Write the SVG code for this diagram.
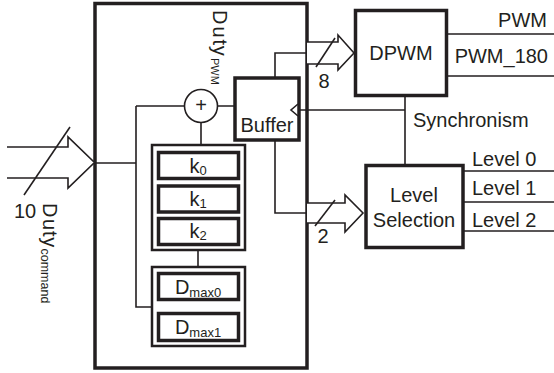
<svg xmlns="http://www.w3.org/2000/svg" width="554" height="373" viewBox="0 0 554 373">
<style>
.t{font-family:"Liberation Sans",Arial,sans-serif;font-size:20px;fill:#231f20}
.s{font-size:13px}
.ln{fill:none;stroke:#231f20;stroke-width:1.6}
.bx{fill:none;stroke:#231f20;stroke-width:3.5}
.bx2{fill:none;stroke:#231f20;stroke-width:2.5}
.bus{fill:#fff;stroke:#231f20;stroke-width:1.6;stroke-linejoin:miter}
</style>
<rect width="554" height="373" fill="#fff"/>
<g id="main">
<rect class="bx" x="95" y="3.5" width="212" height="364.5"/>
<text class="t" x="213 213 213 213 211 211 211" y="10 26.6 39.4 45.8 58 65.3 75.7" rotate="90" font-size="23">Duty<tspan font-size="11">PWM</tspan></text>
</g>
<g id="sum">
<circle class="ln" cx="201" cy="106" r="16.5" fill="#fff"/>
<text class="t" x="201" y="112" text-anchor="middle" font-size="17">+</text>
</g>
<g id="kgroup">
<rect class="bx2" x="152" y="145" width="93" height="105"/>
<g id="k0"><rect class="bx" x="158.5" y="152.5" width="80" height="26"/><text class="t" x="198" y="173" text-anchor="middle">k<tspan class="s" dy="2">0</tspan></text></g>
<g id="k1"><rect class="bx" x="158.5" y="186" width="80" height="26"/><text class="t" x="198" y="206" text-anchor="middle">k<tspan class="s" dy="2">1</tspan></text></g>
<g id="k2"><rect class="bx" x="158.5" y="218.5" width="80" height="26"/><text class="t" x="198" y="238" text-anchor="middle">k<tspan class="s" dy="2">2</tspan></text></g>
</g>
<g id="dgroup">
<rect class="bx2" x="152" y="267" width="93" height="79"/>
<g id="dmax0"><rect class="bx" x="158.5" y="273.5" width="80" height="26"/><text class="t" x="198" y="294" text-anchor="middle">D<tspan class="s" dy="3">max0</tspan></text></g>
<g id="dmax1"><rect class="bx" x="158.5" y="313.5" width="80" height="27"/><text class="t" x="198" y="334" text-anchor="middle">D<tspan class="s" dy="3">max1</tspan></text></g>
</g>
<g id="buffer">
<rect class="bx" x="235" y="78" width="64" height="62"/>
<text class="t" x="267" y="132" text-anchor="middle">Buffer</text>
<path class="ln" d="M298,104 L291,110 L298,116"/>
</g>
<g id="dpwm">
<rect class="bx" x="355.5" y="10.5" width="91" height="85"/>
<text class="t" x="401" y="60" text-anchor="middle">DPWM</text>
</g>
<g id="levelsel">
<rect class="bx" x="366" y="165.5" width="97" height="82"/>
<text class="t" x="414" y="202" text-anchor="middle">Level</text>
<text class="t" x="414" y="227" text-anchor="middle">Selection</text>
</g>
<g id="connectors">
<path class="bus" d="M7,147 H68 V137 L94.5,162.5 L68,188 V178 H7"/>
<path class="ln" d="M70,127 L24,195"/>
<path class="ln" d="M95,163 H136 M136,106 V307 H152 M136,106 H184.5 M217.5,106 H235 M201,122.5 V145 M198,250 V267"/>
<path class="ln" d="M275,78 V53 H307 M275,140 V213 H307"/>
<path class="bus" d="M307,42 H338 V35 L354,53 L338,70 V64 H307"/>
<path class="ln" d="M335,38 L316,67"/>
<path class="bus" d="M307,203 H345 V195 L363,213 L345,232 V223 H307"/>
<path class="ln" d="M335,200 L315,226"/>
<path class="ln" d="M405,95.5 V165.5 M405,110 H299"/>
<path class="ln" d="M446.5,34 H554 M446.5,76 H554 M463,171 H554 M463,202 H554 M463,231 H554"/>
</g>
<g id="labels">
<text class="t" x="25" y="218" text-anchor="middle">10</text>
<text class="t" x="43 43 43 43 41 41 41 41 41 41 41" y="203 218.9 231.1 237.2 248.5 254.75 261.7 272.1 282.5 289.45 296.4" rotate="90" font-size="22">Duty<tspan font-size="12.5">command</tspan></text>
<text class="t" x="324" y="88" text-anchor="middle">8</text>
<text class="t" x="323" y="243" text-anchor="middle">2</text>
<text class="t" x="547" y="27" text-anchor="end">PWM</text>
<text class="t" x="548" y="63" text-anchor="end">PWM_180</text>
<text class="t" x="413" y="127">Synchronism</text>
<text class="t" x="472" y="166">Level 0</text>
<text class="t" x="472" y="195">Level 1</text>
<text class="t" x="472" y="227">Level 2</text>
</g>
</svg>
